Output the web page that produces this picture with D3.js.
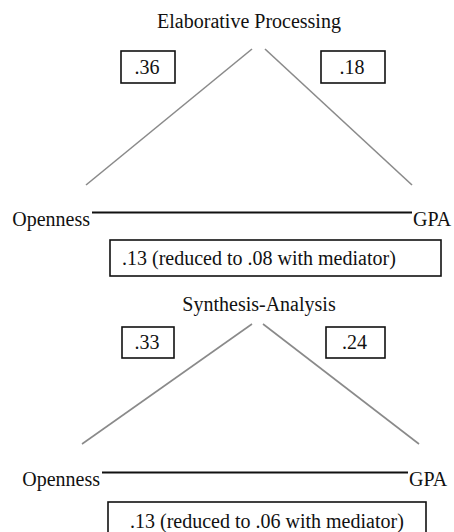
<!DOCTYPE html>
<html>
<head>
<meta charset="utf-8">
<script src="https://cdn.jsdelivr.net/npm/d3@7"></script>
<style>
  body { margin: 0; background: #fff; }
  svg text { font-family: "Liberation Serif", "Times New Roman", serif; fill: #111; }
</style>
</head>
<body>
<div class="plot"></div>
<script>
// mediation paths, one panel per mediator
const mediators = ["Elaborative Processing", "Synthesis-Analysis"];
const pathA = [".36", ".33"];        // Openness -> mediator
const pathB = [".18", ".24"];        // mediator -> GPA
const totalEffect = [".13", ".13"];
const directEffect = [".08", ".06"];
const predictor = "Openness";
const outcome = "GPA";

// layout per panel (pixel geometry only)
const geom = [
    { title: 28, titleX: 249, apex: 49, base: 185, leftX: 86, rightX: 412, apexL: 252, apexR: 265,
      boxTop: 51, boxH: 32, boxA: [121, 175], boxB: [321, 385],
      axisY: 212.5, axis: [92, 412], labelY: 226,
      effTop: 240, effH: 36, eff: [110, 441], effText: 122, effBase: 265 },
    { title: 311, titleX: 259, apex: 324, base: 444, leftX: 82, rightX: 419, apexL: 252, apexR: 263,
      boxTop: 327, boxH: 31, boxA: [122, 174], boxB: [326, 385],
      axisY: 472.5, axis: [102, 408], labelY: 486,
      effTop: 502, effH: 40, eff: [108, 426], effText: 130, effBase: 528 }
];

const width = 454, height = 532;
const fs = 20;

const svg = d3.select(".plot")
    .append("svg")
    .attr("width", width)
    .attr("height", height);

const panels = svg.selectAll("g.panel")
    .data(mediators.map((m, i) => ({ name: m, a: pathA[i], b: pathB[i], c: totalEffect[i], cp: directEffect[i], g: geom[i] })))
    .enter().append("g")
    .attr("class", "panel");

panels.append("text")
    .attr("x", d => d.g.titleX)
    .attr("y", d => d.g.title)
    .attr("text-anchor", "middle")
    .style("font-size", fs + "px")
    .text(d => d.name);

// diagonal paths
const line = d3.line();
panels.append("path")
    .attr("d", d => line([[d.g.leftX, d.g.base], [d.g.apexL, d.g.apex]]))
    .attr("stroke", "#8a8a8a").attr("stroke-width", 1.6).attr("fill", "none");
panels.append("path")
    .attr("d", d => line([[d.g.apexR, d.g.apex], [d.g.rightX, d.g.base]]))
    .attr("stroke", "#8a8a8a").attr("stroke-width", 1.6).attr("fill", "none");

// coefficient boxes
function coefBox(sel, key, val) {
    sel.append("rect")
        .attr("x", d => d.g[key][0])
        .attr("y", d => d.g.boxTop)
        .attr("width", d => d.g[key][1] - d.g[key][0])
        .attr("height", d => d.g.boxH)
        .attr("fill", "none").attr("stroke", "#111").attr("stroke-width", 1.6);
    sel.append("text")
        .attr("x", d => (d.g[key][0] + d.g[key][1]) / 2 - 1)
        .attr("y", d => d.g.boxTop + d.g.boxH / 2 + fs * 0.33)
        .attr("text-anchor", "middle")
        .style("font-size", fs + "px")
        .text(val);
}
coefBox(panels, "boxA", d => d.a);
coefBox(panels, "boxB", d => d.b);

// direct path
panels.append("path")
    .attr("d", d => line([[d.g.axis[0], d.g.axisY], [d.g.axis[1], d.g.axisY]]))
    .attr("stroke", "#111").attr("stroke-width", 2.2);

panels.append("text")
    .attr("x", d => d.g.axis[0] - 2)
    .attr("y", d => d.g.labelY)
    .attr("text-anchor", "end")
    .style("font-size", fs + "px")
    .text(predictor);

panels.append("text")
    .attr("x", d => d.g.axis[1] + 1)
    .attr("y", d => d.g.labelY)
    .style("font-size", fs + "px")
    .text(outcome);

panels.append("rect")
    .attr("x", d => d.g.eff[0])
    .attr("y", d => d.g.effTop)
    .attr("width", d => d.g.eff[1] - d.g.eff[0])
    .attr("height", d => d.g.effH)
    .attr("fill", "none").attr("stroke", "#111").attr("stroke-width", 1.6);

panels.append("text")
    .attr("x", d => d.g.effText)
    .attr("y", d => d.g.effBase)
    .style("font-size", fs + "px")
    .text(d => `${d.c} (reduced to ${d.cp} with mediator)`);
</script>
</body>
</html>
